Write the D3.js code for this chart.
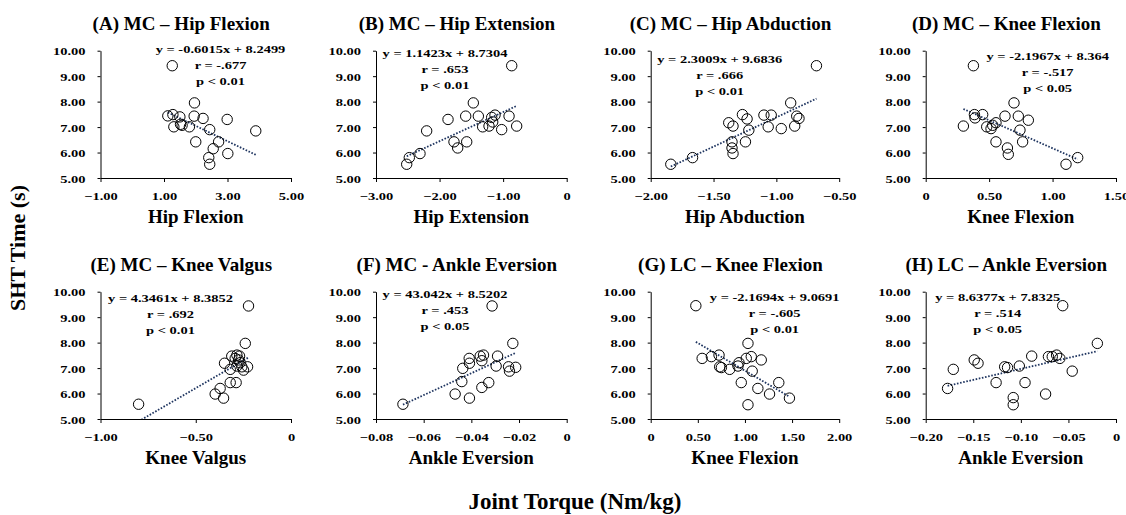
<!DOCTYPE html>
<html>
<head>
<meta charset="utf-8">
<script src="https://cdn.jsdelivr.net/npm/d3@7"></script>
<style>
  body { margin: 0; background: #fff; }
  text { font-family: "Liberation Serif", "Times New Roman", serif; font-weight: bold; fill: #000; }
</style>
</head>
<body>
<script>
// Panel titles and axis labels
const titles = ["(A) MC \u2013 Hip Flexion", "(B) MC \u2013 Hip Extension", "(C) MC \u2013 Hip Abduction", "(D) MC \u2013 Knee Flexion",
  "(E) MC \u2013 Knee Valgus", "(F) MC - Ankle Eversion", "(G) LC \u2013 Knee Flexion", "(H) LC \u2013 Ankle Eversion"];
const xLabels = ["Hip Flexion", "Hip Extension", "Hip Abduction", "Knee Flexion",
  "Knee Valgus", "Ankle Eversion", "Knee Flexion", "Ankle Eversion"];

// x domains and tick values for each panel
const xDomains = [[-1, 5], [-3, 0], [-2, -0.5], [0, 1.5], [-1, 0], [-0.08, 0], [0, 2], [-0.2, 0]];
const xTicks = [[-1, 1, 3, 5], [-3, -2, -1, 0], [-2, -1.5, -1, -0.5], [0, 0.5, 1, 1.5],
  [-1, -0.5, 0], [-0.08, -0.06, -0.04, -0.02, 0], [0, 0.5, 1, 1.5, 2], [-0.2, -0.15, -0.1, -0.05, 0]];
const yTicks = [5, 6, 7, 8, 9, 10];

// regression results
const slopes = [-0.6015, 1.1423, 2.3009, -2.1967, 4.3461, 43.042, -2.1694, 8.6377];
const intercepts = [8.2499, 8.7304, 9.6836, 8.364, 8.3852, 8.5202, 9.0691, 7.8325];
const eqLines = [
  ["y = -0.6015x + 8.2499", "r = -.677", "p < 0.01"],
  ["y = 1.1423x + 8.7304", "r = .653", "p < 0.01"],
  ["y = 2.3009x + 9.6836", "r = .666", "p < 0.01"],
  ["y = -2.1967x + 8.364", "r = -.517", "p < 0.05"],
  ["y = 4.3461x + 8.3852", "r = .692", "p < 0.01"],
  ["y = 43.042x + 8.5202", "r = .453", "p < 0.05"],
  ["y = -2.1694x + 9.0691", "r = -.605", "p < 0.01"],
  ["y = 8.6377x + 7.8325", "r = .514", "p < 0.05"]
];

// SHT time (s) vs joint torque (Nm/kg)
const hipFlexX = [1.26, 1.96, 1.12, 1.28, 1.50, 1.95, 2.23, 2.99, 1.31, 1.52, 1.57, 1.80, 2.44, 3.89, 2.00, 2.72, 2.55, 2.41, 3.01, 2.44];
const hipFlexY = [9.41, 7.95, 7.44, 7.49, 7.40, 7.43, 7.34, 7.30, 7.01, 7.11, 7.07, 7.01, 6.90, 6.85, 6.42, 6.42, 6.15, 5.80, 5.96, 5.54];

const hipExtX = [-0.865, -1.469, -1.867, -2.203, -1.589, -1.390, -1.773, -1.715, -1.573, -2.308, -2.476, -2.517, -1.322, -1.222, -1.180, -1.128, -1.164, -1.023, -0.907, -0.787];
const hipExtY = [9.41, 7.95, 7.30, 6.85, 7.43, 7.43, 6.42, 6.18, 6.42, 5.96, 5.80, 5.54, 7.01, 7.04, 7.38, 7.47, 7.20, 6.90, 7.43, 7.04];

const hipAbdX = [-0.681, -0.886, -1.379, -1.345, -1.270, -1.233, -1.219, -1.246, -1.353, -1.353, -1.345, -1.099, -1.041, -1.065, -0.961, -0.838, -0.820, -0.854, -1.667, -1.840];
const hipAbdY = [9.41, 7.95, 7.17, 7.04, 7.49, 7.32, 6.88, 6.42, 6.42, 6.18, 5.96, 7.47, 7.47, 7.01, 6.94, 7.43, 7.34, 7.04, 5.80, 5.54];

const mcKneeFlexX = [0.376, 0.696, 0.297, 0.384, 0.389, 0.449, 0.481, 0.515, 0.528, 0.554, 0.625, 0.730, 0.809, 0.743, 0.554, 0.644, 0.651, 0.764, 1.198, 1.106];
const mcKneeFlexY = [9.41, 7.95, 7.04, 7.49, 7.36, 7.49, 7.01, 6.94, 7.07, 7.17, 7.43, 7.43, 7.27, 6.88, 6.42, 6.18, 5.93, 6.42, 5.80, 5.54];

const kneeValgusX = [-0.223, -0.240, -0.800, -0.349, -0.311, -0.293, -0.284, -0.275, -0.270, -0.267, -0.319, -0.284, -0.258, -0.249, -0.228, -0.319, -0.288, -0.372, -0.398, -0.354];
const kneeValgusY = [9.44, 7.97, 5.58, 7.19, 7.47, 7.38, 7.51, 7.32, 7.47, 7.21, 6.95, 7.08, 7.05, 6.92, 7.05, 6.43, 6.43, 6.20, 5.98, 5.82];

const mcAnkleEvX = [-0.0313, -0.0226, -0.0687, -0.0409, -0.0408, -0.0436, -0.0363, -0.0349, -0.0356, -0.0290, -0.0296, -0.0244, -0.0240, -0.0214, -0.0440, -0.0327, -0.0356, -0.0468, -0.0408];
const mcAnkleEvY = [9.44, 7.97, 5.58, 7.38, 7.19, 6.99, 7.47, 7.51, 7.29, 7.47, 7.08, 7.05, 6.88, 7.03, 6.47, 6.43, 6.24, 5.98, 5.82];

const lcKneeFlexX = [0.479, 1.032, 0.546, 0.644, 0.725, 0.732, 0.750, 0.838, 0.926, 0.937, 1.014, 1.067, 1.173, 1.077, 0.961, 1.359, 1.137, 1.261, 1.472, 1.032];
const lcKneeFlexY = [9.45, 7.97, 7.38, 7.45, 7.51, 7.05, 7.02, 6.95, 7.08, 7.21, 7.38, 7.45, 7.32, 6.88, 6.43, 6.43, 6.20, 5.98, 5.82, 5.56];

const lcAnkleEvX = [-0.056, -0.0196, -0.171, -0.149, -0.145, -0.177, -0.126, -0.117, -0.114, -0.1016, -0.0886, -0.0956, -0.108, -0.108, -0.074, -0.071, -0.067, -0.0624, -0.059, -0.046];
const lcAnkleEvY = [9.45, 7.97, 6.95, 7.32, 7.19, 6.20, 6.43, 7.05, 7.02, 7.08, 7.47, 6.43, 5.84, 5.56, 5.98, 7.45, 7.45, 7.51, 7.38, 6.88];

const xSeries = [hipFlexX, hipExtX, hipAbdX, mcKneeFlexX, kneeValgusX, mcAnkleEvX, lcKneeFlexX, lcAnkleEvX];
const ySeries = [hipFlexY, hipExtY, hipAbdY, mcKneeFlexY, kneeValgusY, mcAnkleEvY, lcKneeFlexY, lcAnkleEvY];

// layout (pixels)
const colLeft = [100.5, 376, 650.7, 925.7];
const colWidth = [190.5, 190.7, 188.5, 190.3];
const rowTop = [50.7, 291.7];
const plotH = 127.3;
// equation block anchor: centre x offset from plot left, first baseline offset from plot top
const eqPos = [[120, 2], [69, 6], [69, 12], [122, 9], [70, 10], [69, 6.6], [124, 9], [72, 9]];
const stretch = 1.28;   // the small text in the source is horizontally stretched
const smallFont = 11.3;

const svg = d3.select("body").append("svg")
  .attr("width", 1126)
  .attr("height", 515);

const fmt = function(v) {
  if (v === 0) return "0";
  return d3.format(".2f")(v);
};

for (let i = 0; i < 8; i++) {
  const col = i % 4, row = Math.floor(i / 4);
  const left = colLeft[col], top = rowTop[row], w = colWidth[col];

  const x = d3.scaleLinear().domain(xDomains[i]).range([0, w]);
  const y = d3.scaleLinear().domain([5, 10]).range([plotH, 0]);

  const g = svg.append("g").attr("transform", "translate(" + left + "," + top + ")");

  svg.append("defs").append("clipPath").attr("id", "clip" + i)
    .append("rect").attr("width", w).attr("height", plotH);

  // y axis
  const yAx = g.append("g")
    .call(d3.axisLeft(y).tickValues(yTicks).tickSize(3).tickSizeOuter(0).tickFormat(fmt));
  yAx.selectAll("path, line").attr("stroke", "#000").attr("stroke-width", 1);
  yAx.selectAll("text")
    .attr("x", 0).attr("dy", null)
    .attr("transform", "translate(-15,4) scale(" + stretch + ",1)")
    .style("font-size", smallFont + "px")
    .style("font-family", null);

  // x axis
  const xAx = g.append("g")
    .attr("transform", "translate(0," + plotH + ")")
    .call(d3.axisBottom(x).tickValues(xTicks[i]).tickSize(4).tickSizeOuter(0).tickFormat(fmt));
  xAx.selectAll("path, line").attr("stroke", "#000").attr("stroke-width", 1);
  xAx.selectAll("text")
    .attr("y", 0).attr("dy", null)
    .attr("transform", "translate(0,21.5) scale(" + stretch + ",1)")
    .style("font-size", smallFont + "px")
    .style("font-family", null);

  // trend line over the data range
  const xs = xSeries[i];
  const ext = d3.extent(xs);
  g.append("line")
    .attr("clip-path", "url(#clip" + i + ")")
    .attr("x1", x(ext[0])).attr("y1", y(slopes[i] * ext[0] + intercepts[i]))
    .attr("x2", x(ext[1])).attr("y2", y(slopes[i] * ext[1] + intercepts[i]))
    .attr("stroke", "#1f3560")
    .attr("stroke-width", 1.8)
    .attr("stroke-dasharray", "1.6,1.6");

  // points
  g.selectAll(".dot")
    .data(xs.map(function(d, k) { return [d, ySeries[i][k]]; }))
    .enter().append("circle")
    .attr("class", "dot")
    .attr("cx", function(d) { return x(d[0]); })
    .attr("cy", function(d) { return y(d[1]); })
    .attr("r", 5.2)
    .attr("fill", "none")
    .attr("stroke", "#000")
    .attr("stroke-width", 1);

  // equation block
  eqLines[i].forEach(function(t, k) {
    g.append("text")
      .attr("text-anchor", "middle")
      .attr("transform", "translate(" + eqPos[i][0] + "," + (eqPos[i][1] + k * 16) + ") scale(" + stretch + ",1)")
      .style("font-size", smallFont + "px")
      .text(t);
  });

  // panel title
  g.append("text")
    .attr("x", w / 2 - 14.5)
    .attr("y", -21)
    .attr("text-anchor", "middle")
    .style("font-size", "19px")
    .text(titles[i]);

  // x label
  g.append("text")
    .attr("x", w / 2)
    .attr("y", plotH + 45.5)
    .attr("text-anchor", "middle")
    .style("font-size", "19px")
    .text(xLabels[i]);
}

// shared axis titles
svg.append("text")
  .attr("transform", "translate(25,248) rotate(-90)")
  .attr("text-anchor", "middle")
  .style("font-size", "22px")
  .text("SHT Time (s)");

svg.append("text")
  .attr("x", 575)
  .attr("y", 509)
  .attr("text-anchor", "middle")
  .style("font-size", "23px")
  .text("Joint Torque (Nm/kg)");
</script>
</body>
</html>
